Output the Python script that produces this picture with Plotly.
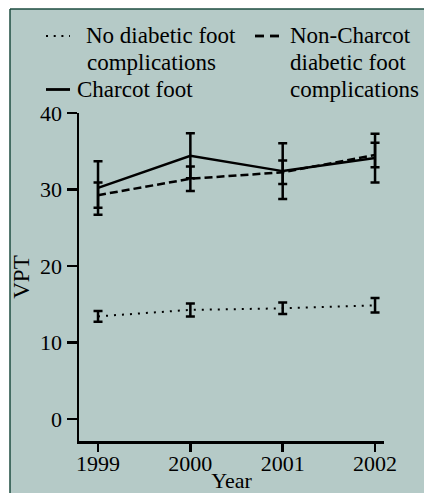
import plotly.graph_objects as go

years = [1999, 2000, 2001, 2002]
no_complications = [13.4, 14.25, 14.45, 14.85]
no_complications_err = [0.7, 0.85, 0.75, 0.95]
non_charcot = [29.25, 31.4, 32.25, 34.5]
non_charcot_err = [1.65, 1.6, 1.55, 1.6]
charcot = [30.2, 34.4, 32.4, 34.1]
charcot_err = [3.5, 2.95, 3.65, 3.2]
y_ticks = [0, 10, 20, 30, 40]

FONT = "Liberation Serif"
BG = "#b5cac7"
FRAME = "#1e4d40"

W, H = 424, 493
# plot area in page pixels
PL, PR, PT, PB = 79, 384, 113, 441
L, R, T, B = PL, W - PR, PT, H - PB
PW, PH = PR - PL, PB - PT


def px(x):
    return (x - PL) / PW


def py(y):
    return (PB - y) / PH


fig = go.Figure()

fig.add_trace(go.Scatter(
    x=years, y=no_complications, mode="lines",
    line=dict(color="black", width=2, dash="2px,6px"),
    error_y=dict(type="data", array=no_complications_err, color="black", thickness=2.5, width=4.5),
    showlegend=False, hoverinfo="skip"))
fig.add_trace(go.Scatter(
    x=years, y=non_charcot, mode="lines",
    line=dict(color="black", width=2.5, dash="8px,4px"),
    error_y=dict(type="data", array=non_charcot_err, color="black", thickness=2.5, width=4.5),
    showlegend=False, hoverinfo="skip"))
fig.add_trace(go.Scatter(
    x=years, y=charcot, mode="lines",
    line=dict(color="black", width=2.5),
    error_y=dict(type="data", array=charcot_err, color="black", thickness=2.5, width=4.5),
    showlegend=False, hoverinfo="skip"))

shapes = [
    # white outer strips (left and top) and the frame's left/top edges
    dict(type="rect", xref="paper", yref="paper", layer="below",
         x0=px(-5), x1=px(10), y0=py(H + 5), y1=py(-5),
         fillcolor="white", line=dict(width=0)),
    dict(type="rect", xref="paper", yref="paper", layer="below",
         x0=px(-5), x1=px(W + 5), y0=py(9), y1=py(-5),
         fillcolor="white", line=dict(width=0)),
    dict(type="line", xref="paper", yref="paper", layer="below",
         x0=px(10), x1=px(10), y0=py(9), y1=py(H + 5),
         line=dict(color=FRAME, width=1.5)),
    dict(type="line", xref="paper", yref="paper", layer="below",
         x0=px(10), x1=px(W + 5), y0=py(9), y1=py(9),
         line=dict(color=FRAME, width=1.5)),
    # legend samples
    dict(type="line", xref="paper", yref="paper", x0=px(46), x1=px(70), y0=py(36), y1=py(36),
         line=dict(color="black", width=2.2, dash="2px,5.7px")),
    dict(type="line", xref="paper", yref="paper", x0=px(46), x1=px(70), y0=py(89.5), y1=py(89.5),
         line=dict(color="black", width=2.8)),
    dict(type="line", xref="paper", yref="paper", x0=px(255), x1=px(264), y0=py(36), y1=py(36),
         line=dict(color="black", width=2.8)),
    dict(type="line", xref="paper", yref="paper", x0=px(270), x1=px(279), y0=py(36), y1=py(36),
         line=dict(color="black", width=2.8)),
]

legend_lines = [
    ("No diabetic foot", 85, 42.7),
    ("complications", 86, 69.5),
    ("Charcot foot", 76, 96.7),
    ("Non-Charcot", 289, 42.7),
    ("diabetic foot", 289, 69.5),
    ("complications", 289, 96.7),
]
annotations = []
FS = 23
for text, x, base in legend_lines:
    annotations.append(dict(
        text=text, xref="paper", yref="paper", x=px(x), y=py(base - 0.3 * FS),
        xanchor="left", yanchor="middle", showarrow=False, align="left",
        font=dict(family=FONT, size=FS, color="black"), borderpad=0))

fig.update_layout(
    width=W, height=H,
    margin=dict(l=L, r=R, t=T, b=B, autoexpand=False),
    paper_bgcolor=BG, plot_bgcolor="rgba(0,0,0,0)",
    shapes=shapes, annotations=annotations,
    font=dict(family=FONT, size=22, color="black"),
    xaxis=dict(
        range=[1998.794, 2002.097], tickvals=years, ticktext=[str(y) for y in years],
        showline=True, linecolor="black", linewidth=2.5, ticks="outside", ticklen=8,
        tickwidth=2.5, tickcolor="black", showgrid=False, zeroline=False,
        ticklabelstandoff=-7,
        tickfont=dict(family=FONT, size=22, color="black"),
        title=dict(text="Year", font=dict(family=FONT, size=22, color="black"), standoff=2),
        automargin=False),
    yaxis=dict(
        range=[-2.9, 40], tickvals=y_ticks,
        showline=True, linecolor="black", linewidth=2.5, ticks="outside", ticklen=10,
        tickwidth=2.5, tickcolor="black", showgrid=False, zeroline=False,
        tickfont=dict(family=FONT, size=22, color="black"),
        title=dict(text="VPT", font=dict(family=FONT, size=23, color="black"), standoff=4),
        automargin=False),
)

fig.write_html(
    "out.html",
    config={"displayModeBar": False, "staticPlot": True},
    post_script="document.body.style.margin='0';document.body.style.overflow='hidden';",
)
